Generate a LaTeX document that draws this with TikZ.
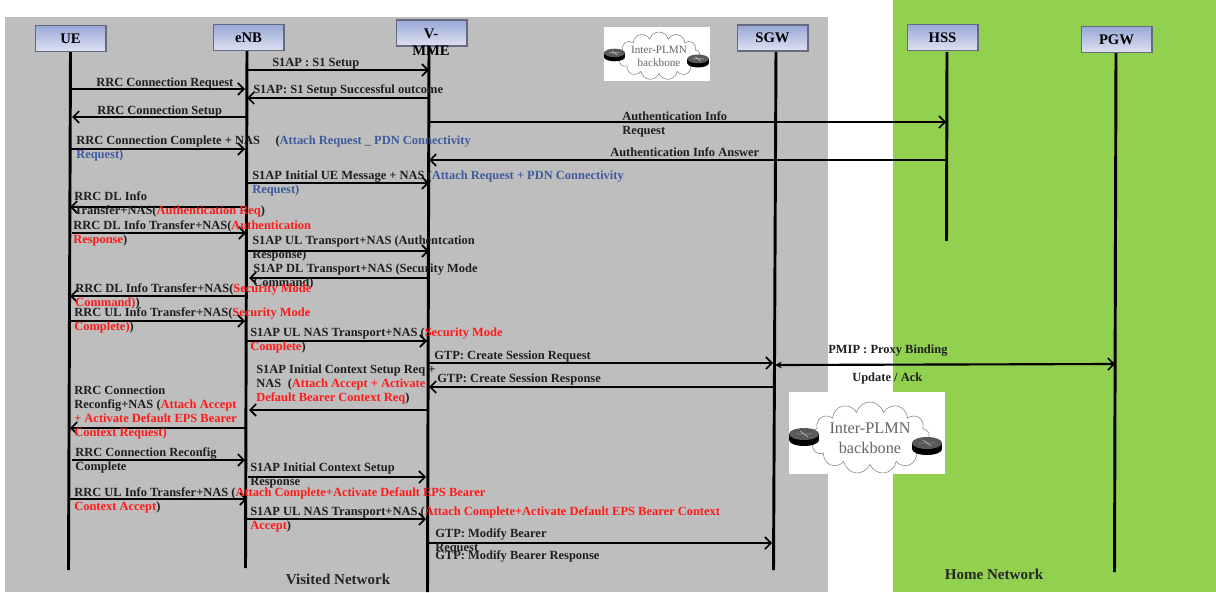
\documentclass[tikz,border=0pt]{standalone}
\usepackage{fontspec}
\setmainfont{Liberation Serif}
\usetikzlibrary{arrows.meta,positioning,shapes.symbols}
\definecolor{visitedgray}{HTML}{BEBEBE}
\definecolor{homegreen}{HTML}{92D050}
\definecolor{boxedge}{HTML}{666A7E}
\definecolor{boxtop}{HTML}{98A8D8}
\definecolor{boxbottom}{HTML}{DEE1F1}
\definecolor{attachred}{HTML}{FF1A1A}
\definecolor{pdnblue}{HTML}{3F5B9C}
\newcommand{\rdtxt}[1]{\textcolor{attachred}{#1}}
\newcommand{\bltxt}[1]{\textcolor{pdnblue}{#1}}
\tikzset{
    actor/.style={draw=boxedge,line width=1pt,top color=boxtop,bottom color=boxbottom,minimum width=53pt,minimum height=19.5pt,inner sep=0pt,font=\fontsize{11}{12}\selectfont\bfseries},
    actorname/.style={inner sep=0pt,align=center,font=\fontsize{11}{12.7}\selectfont\bfseries},
    life/.style={-,line width=2.2pt,black},
    msg/.style={-{Straight Barb[length=4.5pt,width=9pt,line width=1.2pt]},line width=1.6pt,black},
    msglabel/.style={anchor=north west,inner sep=0pt,yshift=-.9pt,align=left,font=\fontsize{9.35}{10.5}\selectfont\bfseries,text=black!88},
    netlabel/.style={inner sep=0pt,font=\fontsize{11.3}{13}\selectfont\bfseries,text=black!85},
    netcloud/.style={cloud,cloud puffs=13,cloud ignores aspect,draw=black!50,fill=white,inner sep=0pt,align=center,text=black!60},
    netbox/.style={fill=white,inner sep=0pt},
    router/.pic={
        \fill[black] (0,3) ellipse [x radius=15,y radius=6];
        \fill[black] (-15,-3) rectangle (15,3);
        \fill[black!65] (0,-3) ellipse [x radius=15,y radius=6];
        \draw[black!15,line width=.3pt] (-8,-3) -- (8,-3) (-4,-6) -- (4,0);
    }
}

\begin{document}
\begin{tikzpicture}[x=.75pt,y=-.75pt]
    \useasboundingbox (0,0) rectangle (1216,592);

    % network areas
    \fill[visitedgray] (5,17) rectangle (828,592);
    \fill[homegreen] (893,0) rectangle (1216,592);

    % lifelines
    \coordinate (ue top) at (70.5,52);    \coordinate (ue end) at (68.5,570);
    \coordinate (enb top) at (247,50);    \coordinate (enb end) at (245.5,568);
    \coordinate (mme top) at (429,46);    \coordinate (mme end) at (427.5,592);
    \coordinate (sgw top) at (776,51);    \coordinate (sgw end) at (773.5,570);
    \coordinate (hss top) at (947,52);    \coordinate (hss end) at (946.5,241);
    \coordinate (pgw top) at (1116,52);   \coordinate (pgw end) at (1114.5,572);
    \draw[life] (ue top) -- (ue end);
    \draw[life] (enb top) -- (enb end);
    \draw[life] (mme top) -- (mme end);
    \draw[life] (sgw top) -- (sgw end);
    \draw[life] (hss top) -- (hss end);
    \draw[life] (pgw top) -- (pgw end);

    \node[actor] (ue) at (70.5,38.5) {UE};
    \node[actor] (enb) at (248.5,37.5) {eNB};
    \node[actor] (mme) at (431.5,33) {};
    \node[actorname] (mme name) at (431,42) {V-\\MME};
    \node[actor] (sgw) at (772.5,38) {SGW};
    \node[actor] (hss) at (942.5,37.5) {HSS};
    \node[actor] (pgw) at (1116.5,39.5) {PGW};

    % backbone pictures
    \node[netbox,minimum width=79.5pt,minimum height=40.5pt] (small box) at (657,54) {};
    \node[netcloud,minimum width=58.5pt,minimum height=36pt,font=\fontsize{8.4}{9.75}\selectfont] (small cloud) at (659,56) {Inter-PLMN\\backbone};
    \pic[scale=.7] at (614.5,55) {router};
    \pic[scale=.72] at (698,61) {router};
    \node[netbox,minimum width=117pt,minimum height=61.5pt] (big box) at (866.5,432.5) {};
    \node[netcloud,minimum width=86pt,minimum height=54pt,font=\fontsize{12.2}{15}\selectfont] (big cloud) at (870,438) {Inter-PLMN\\backbone};
    \pic at (804,437) {router};
    \pic at (927,446) {router};

    % messages
    \coordinate (a1) at (247,70);    \coordinate (b1) at (429,70);    \draw[msg] (a1) -- (b1);
    \coordinate (a2) at (70,89);     \coordinate (b2) at (245,89);    \draw[msg] (a2) -- (b2);
    \coordinate (a3) at (429,98);    \coordinate (b3) at (247,98);    \draw[msg] (a3) -- (b3);
    \coordinate (a4) at (247,117);   \coordinate (b4) at (72,117);    \draw[msg] (a4) -- (b4);
    \coordinate (a5) at (429,122);   \coordinate (b5) at (946,122);   \draw[msg] (a5) -- (b5);
    \coordinate (a6) at (70,149);    \coordinate (b6) at (245,149);   \draw[msg] (a6) -- (b6);
    \coordinate (a7) at (946,160);   \coordinate (b7) at (429,160);   \draw[msg] (a7) -- (b7);
    \coordinate (a8) at (247,183);   \coordinate (b8) at (429,183);   \draw[msg] (a8) -- (b8);
    \coordinate (a9) at (247,207);   \coordinate (b9) at (70,207);    \draw[msg] (a9) -- (b9);
    \coordinate (a10) at (72,233);   \coordinate (b10) at (246,233);  \draw[msg] (a10) -- (b10);
    \coordinate (a11) at (247,251);  \coordinate (b11) at (429,251);  \draw[msg] (a11) -- (b11);
    \coordinate (a12) at (429,278);  \coordinate (b12) at (249,278);  \draw[msg] (a12) -- (b12);
    \coordinate (a13) at (247,296);  \coordinate (b13) at (70,296);   \draw[msg] (a13) -- (b13);
    \coordinate (a14) at (70,321);   \coordinate (b14) at (245,321);  \draw[msg] (a14) -- (b14);
    \coordinate (a15) at (247,341);  \coordinate (b15) at (427,341);  \draw[msg] (a15) -- (b15);
    \coordinate (a16) at (429,363);  \coordinate (b16) at (773,363);  \draw[msg] (a16) -- (b16);
    \coordinate (a17) at (775,365);  \coordinate (b17) at (1115,364); \draw[line width=1.6pt,{Stealth[length=5pt,width=5pt]}-{Straight Barb[length=4.5pt,width=9pt,line width=1.2pt]}] (a17) -- (b17);
    \coordinate (a18) at (773,387);  \coordinate (b18) at (429,387);  \draw[msg] (a18) -- (b18);
    \coordinate (a19) at (428,410);  \coordinate (b19) at (249,410);  \draw[msg] (a19) -- (b19);
    \coordinate (a20) at (247,428);  \coordinate (b20) at (70,428);   \draw[msg] (a20) -- (b20);
    \coordinate (a21) at (72,460);   \coordinate (b21) at (245,460);  \draw[msg] (a21) -- (b21);
    \coordinate (a22) at (248,477);  \coordinate (b22) at (426,477);  \draw[msg] (a22) -- (b22);
    \coordinate (a23) at (70,499);   \coordinate (b23) at (247,499);  \draw[msg] (a23) -- (b23);
    \coordinate (a24) at (247,519);  \coordinate (b24) at (426,519);  \draw[msg] (a24) -- (b24);
    \coordinate (a25) at (428,543);  \coordinate (b25) at (772,543);  \draw[msg] (a25) -- (b25);

    % labels
    \node[msglabel] (l1) at (272,57) {S1AP : S1 Setup};
    \node[msglabel] (l2) at (96,76) {RRC Connection Request};
    \node[msglabel] (l3) at (253,83) {S1AP: S1 Setup Successful outcome};
    \node[msglabel] (l4) at (97,104) {RRC Connection Setup};
    \node[msglabel] (l5) at (622,110) {Authentication Info\\Request};
    \node[msglabel] (l6) at (76,134) {RRC Connection Complete + NAS \quad (\bltxt{Attach Request \_ PDN Connectivity}\\\bltxt{Request)}};
    \node[msglabel] (l7) at (610,146) {Authentication Info Answer};
    \node[msglabel] (l8) at (252,169) {S1AP Initial UE Message + NAS (\bltxt{Attach Request + PDN Connectivity}\\\bltxt{Request)}};
    \node[msglabel] (l9) at (74,190) {RRC DL Info\\Transfer+NAS(\rdtxt{Authentication Req})};
    \node[msglabel] (l10) at (73,219) {RRC DL Info Transfer+NAS(\rdtxt{Authentication}\\\rdtxt{Response})};
    \node[msglabel] (l11) at (252,234) {S1AP UL Transport+NAS (Authentcation\\Response)};
    \node[msglabel] (l12) at (253,262) {S1AP DL Transport+NAS (Security Mode\\Command)};
    \node[msglabel] (l13) at (75,282) {RRC DL Info Transfer+NAS(\rdtxt{Security Mode}\\\rdtxt{Command)})};
    \node[msglabel] (l14) at (74,306) {RRC UL Info Transfer+NAS(\rdtxt{Security Mode}\\\rdtxt{Complete)})};
    \node[msglabel] (l15) at (250,326) {S1AP UL NAS Transport+NAS (\rdtxt{Security Mode}\\\rdtxt{Complete})};
    \node[msglabel] (l16) at (434,349) {GTP: Create Session Request};
    \node[msglabel] (l17) at (828,343) {PMIP : Proxy Binding};
    \node[msglabel] (l17b) at (852,371) {Update / Ack};
    \node[msglabel] (l18) at (437,372) {GTP: Create Session Response};
    \node[msglabel] (l19) at (256,363) {S1AP Initial Context Setup Req +\\NAS \;(\rdtxt{Attach Accept + Activate}\\\rdtxt{Default Bearer Context Req})};
    \node[msglabel] (l20) at (74,384) {RRC Connection\\Reconfig+NAS (\rdtxt{Attach Accept}\\\rdtxt{+ Activate Default EPS Bearer}\\\rdtxt{Context Request)}};
    \node[msglabel] (l21) at (75,446) {RRC Connection Reconfig\\Complete};
    \node[msglabel] (l22) at (250,461) {S1AP Initial Context Setup\\Response};
    \node[msglabel] (l23) at (74,486) {RRC UL Info Transfer+NAS (\rdtxt{Attach Complete+Activate Default EPS Bearer}\\\rdtxt{Context Accept})};
    \node[msglabel] (l24) at (250,505) {S1AP UL NAS Transport+NAS (\rdtxt{Attach Complete+Activate Default EPS Bearer Context}\\\rdtxt{Accept})};
    \node[msglabel] (l25) at (435,527) {GTP: Modify Bearer\\Request};
    \node[msglabel] (l26) at (435,549) {GTP: Modify Bearer Response};

    \node[netlabel] (visited) at (338,579.5) {Visited Network};
    \node[netlabel] (home) at (994,574.5) {Home Network};
\end{tikzpicture}
\end{document}
